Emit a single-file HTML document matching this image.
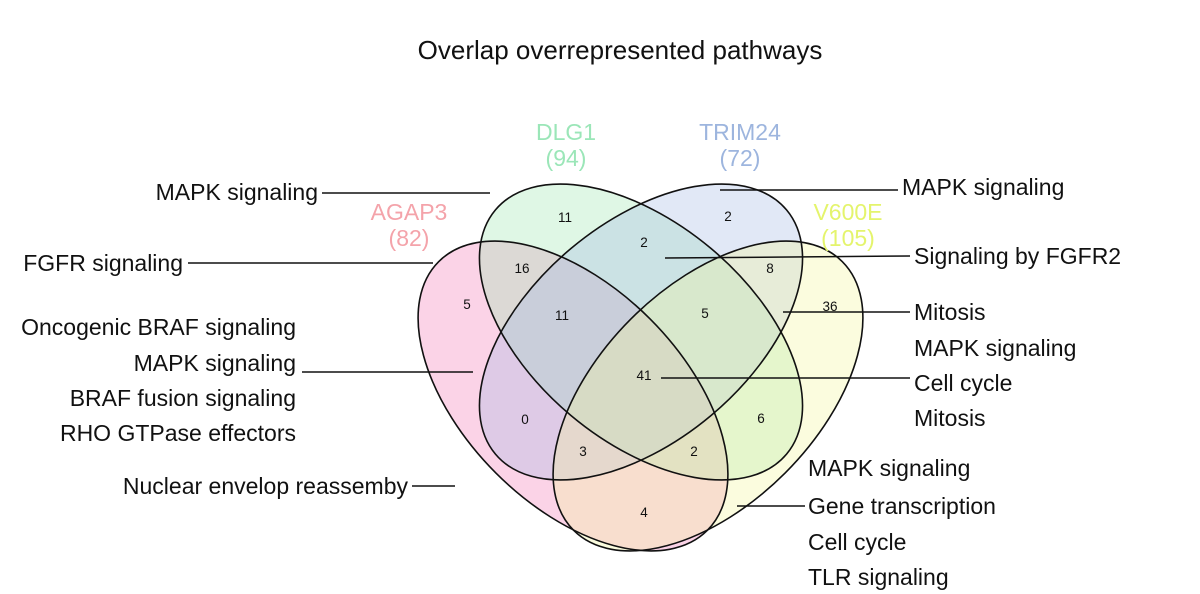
<!DOCTYPE html>
<html><head><meta charset="utf-8"><style>
body{margin:0;background:#fff}
svg{display:block}
text{font-family:"Liberation Sans",sans-serif}
.l{font-size:23px;fill:#111}
.n{font-size:13.5px;fill:#111;text-anchor:middle}
.s{font-size:23px;text-anchor:middle}
</style></head><body>
<svg width="1200" height="594" viewBox="0 0 1200 594">
<text x="620" y="59" text-anchor="middle" style="font-size:26px;fill:#111">Overlap overrepresented pathways</text>
<g fill-opacity="0.33">
<ellipse cx="573" cy="396" rx="190" ry="109" transform="rotate(45 573 396)" fill="#f27ab5"/>
<ellipse cx="641" cy="332" rx="190" ry="109" transform="rotate(40 641 332)" fill="#9ee8b0"/>
<ellipse cx="641" cy="332" rx="190" ry="109" transform="rotate(-40 641 332)" fill="#a3b8e3"/>
<ellipse cx="708" cy="396" rx="190" ry="109" transform="rotate(-45 708 396)" fill="#f4f79a"/>
</g>
<g fill="none" stroke="#111" stroke-width="1.6">
<ellipse cx="573" cy="396" rx="190" ry="109" transform="rotate(45 573 396)"/>
<ellipse cx="641" cy="332" rx="190" ry="109" transform="rotate(40 641 332)"/>
<ellipse cx="641" cy="332" rx="190" ry="109" transform="rotate(-40 641 332)"/>
<ellipse cx="708" cy="396" rx="190" ry="109" transform="rotate(-45 708 396)"/>
</g>
<g stroke="#111" stroke-width="1.5">
<line x1="322" y1="193" x2="490" y2="193"/>
<line x1="188" y1="263" x2="433" y2="263"/>
<line x1="302" y1="372" x2="473" y2="372"/>
<line x1="412" y1="486" x2="455" y2="486"/>
<line x1="720" y1="190" x2="898" y2="190"/>
<line x1="665" y1="258" x2="910" y2="256"/>
<line x1="783" y1="312" x2="910" y2="312"/>
<line x1="661" y1="378" x2="910" y2="378"/>
<line x1="737" y1="506" x2="805" y2="506"/>
</g>
<g class="n">
<text x="565" y="222">11</text><text x="644" y="247">2</text><text x="728" y="221">2</text>
<text x="522" y="273">16</text><text x="770" y="273">8</text><text x="467" y="309">5</text>
<text x="562" y="320">11</text><text x="705" y="318">5</text><text x="830" y="311">36</text>
<text x="644" y="380">41</text><text x="525" y="424">0</text><text x="761" y="423">6</text>
<text x="583" y="456">3</text><text x="694" y="456">2</text><text x="644" y="517">4</text>
</g>
<g class="s">
<text x="566" y="140" fill="#9be6b8">DLG1</text><text x="566" y="166" fill="#9be6b8">(94)</text>
<text x="740" y="140" fill="#9db5de">TRIM24</text><text x="740" y="166" fill="#9db5de">(72)</text>
<text x="409" y="220" fill="#f4a3aa">AGAP3</text><text x="409" y="246" fill="#f4a3aa">(82)</text>
<text x="848" y="220" fill="#e4f46c">V600E</text><text x="848" y="246" fill="#e4f46c">(105)</text>
</g>
<g class="l" text-anchor="end">
<text x="318" y="200">MAPK signaling</text>
<text x="183" y="271">FGFR signaling</text>
<text x="296" y="335">Oncogenic BRAF signaling</text>
<text x="296" y="371">MAPK signaling</text>
<text x="296" y="406">BRAF fusion signaling</text>
<text x="296" y="441">RHO GTPase effectors</text>
<text x="408" y="494">Nuclear envelop reassemby</text>
</g>
<g class="l">
<text x="902" y="195">MAPK signaling</text>
<text x="914" y="264">Signaling by FGFR2</text>
<text x="914" y="320">Mitosis</text>
<text x="914" y="356">MAPK signaling</text>
<text x="914" y="391">Cell cycle</text>
<text x="914" y="426">Mitosis</text>
<text x="808" y="476">MAPK signaling</text>
<text x="808" y="514">Gene transcription</text>
<text x="808" y="550">Cell cycle</text>
<text x="808" y="585">TLR signaling</text>
</g>
</svg>
</body></html>
